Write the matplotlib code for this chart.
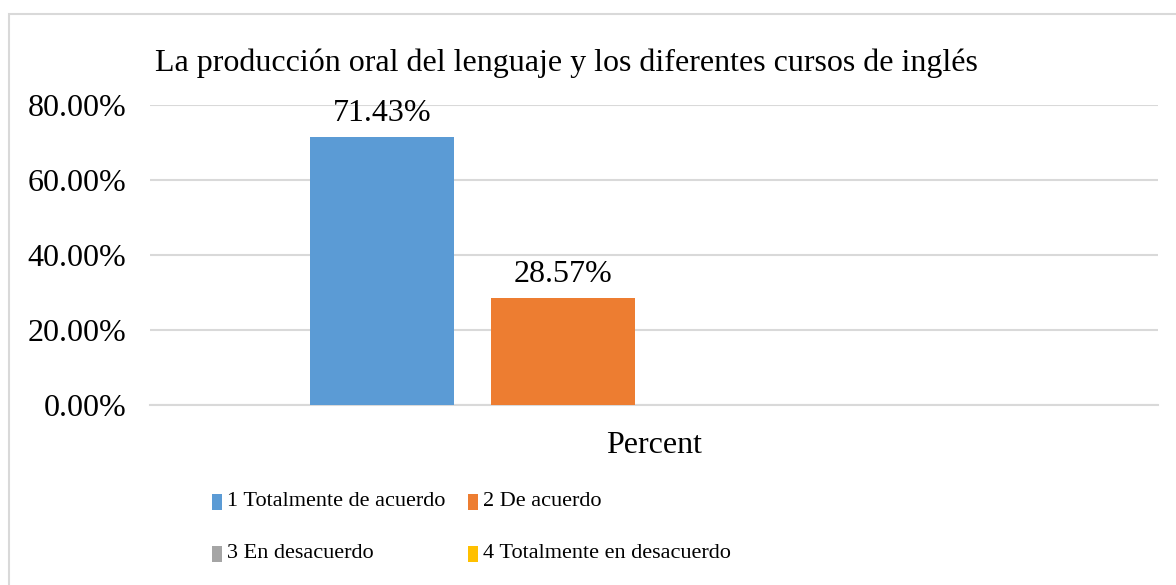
import matplotlib
matplotlib.use("Agg")
import matplotlib.pyplot as plt
from matplotlib.patches import Rectangle
import numpy as np

title = "La producción oral del lenguaje y los diferentes cursos de inglés"
category = "Percent"
series_names = ["1 Totalmente de acuerdo", "2 De acuerdo", "3 En desacuerdo", "4 Totalmente en desacuerdo"]
values = [0.7143, 0.2857, 0.0, 0.0]
colors = ["#5B9BD5", "#ED7D31", "#A5A5A5", "#FFC000"]
yticks = [0.0, 0.2, 0.4, 0.6, 0.8]

plt.rcParams['font.family'] = ['Liberation Serif', 'DejaVu Serif']

W, H = 1176, 585
fig = plt.figure(figsize=(W / 100, H / 100), dpi=100)

def fx(px):
    return px / W

def fy(py):
    return 1 - py / H

# outer chart border
fig.patches.append(Rectangle((fx(9), -0.1), 1.2, fy(14) + 0.1, transform=fig.transFigure,
                             fill=False, edgecolor="#d9d9d9", linewidth=1.5))

ax = fig.add_axes([fx(150), fy(405), fx(1158) - fx(150), fy(105) - fy(405)])
offsets = [-0.270, -0.090, 0.090, 0.270]
bw = 0.1429
bars = []
for name, v, c, off in zip(series_names, values, colors, offsets):
    b = ax.bar(off, v, width=bw, color=c, zorder=3)
    bars.append(b)
    if v > 0:
        ax.annotate(f"{v*100:.2f}%", (off, v), xytext=(0, 11.5), textcoords="offset points",
                    ha="center", va="baseline", fontsize=23, zorder=4)

ax.set_xlim(-0.5, 0.5)
ax.set_ylim(0, 0.8)
ax.set_yticks(yticks)
ax.set_yticklabels([f"{t*100:.2f}%" for t in yticks], fontsize=23)
ax.set_xticks([0])
ax.set_xticklabels([category], fontsize=23)
ax.tick_params(axis="y", length=0, pad=17)
ax.tick_params(axis="x", length=0, pad=18.5)
ax.grid(axis="y", color="#d9d9d9", linewidth=1.5, zorder=0)
for s in ["top", "right", "left"]:
    ax.spines[s].set_visible(False)
ax.spines["bottom"].set_color("#d9d9d9")
ax.spines["bottom"].set_linewidth(1.5)
ax.set_facecolor("none")

fig.text(fx(155), fy(63), title, fontsize=23, ha="left", va="center")

# legend entries
leg_pos = [(212, 502), (468, 502), (212, 554), (468, 554)]
for (px, py), name, c in zip(leg_pos, series_names, colors):
    fig.patches.append(Rectangle((fx(px), fy(py + 8)), fx(10), 16 / H, transform=fig.transFigure,
                                 facecolor=c, edgecolor="none"))
    fig.text(fx(px + 15), fy(py), name, fontsize=16, ha="left", va="center")

fig.savefig("out.png", dpi=100)
